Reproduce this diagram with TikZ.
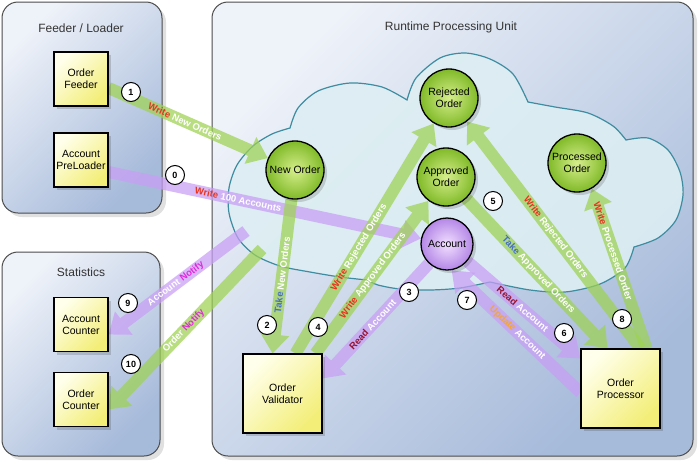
\documentclass[tikz,border=0pt]{standalone}
\usepackage{fontspec}
\setmainfont{Liberation Sans}
\usetikzlibrary{arrows.meta}
\pgfdeclarelayer{bg}
\pgfdeclarelayer{arr}
\pgfsetlayers{bg,arr,main}
\definecolor{contA}{RGB}{238,242,249}
\definecolor{contB}{RGB}{166,186,218}
\definecolor{cloudfill}{RGB}{221,238,243}
\definecolor{cloudline}{RGB}{62,140,160}
\definecolor{garrow}{RGB}{158,210,82}
\definecolor{parrow}{RGB}{200,158,245}
\definecolor{yelA}{RGB}{255,255,235}
\definecolor{yelB}{RGB}{243,238,120}
\definecolor{grnA}{RGB}{214,238,140}
\definecolor{grnB}{RGB}{128,186,40}
\definecolor{purA}{RGB}{242,224,255}
\definecolor{purB}{RGB}{180,135,230}
\definecolor{wr}{RGB}{232,52,30}
\definecolor{tk}{RGB}{70,110,200}
\definecolor{rd}{RGB}{150,20,50}
\definecolor{up}{RGB}{245,165,50}
\definecolor{nt}{RGB}{225,40,220}
\tikzset{
  container/.style={draw=black!70, line width=1pt, rounded corners=16pt,
     top color=contA, bottom color=contB, shading angle=45},
  cshadow/.style={fill=black, fill opacity=0.12, rounded corners=16pt},
  ctitle/.style={font=\fontsize{12}{14}\selectfont, text=black!80},
  nshadow/.style={preaction={fill=black, fill opacity=0.15, transform canvas={xshift=3pt,yshift=-3pt}}},
  ybox/.style={draw=black, line width=1.2pt, minimum width=54pt, minimum height=54pt,
     top color=yelA, bottom color=yelB, shading angle=45, align=center,
     font=\fontsize{10.5}{12}\selectfont, inner sep=1pt, nshadow},
  bigbox/.style={ybox, minimum width=79pt, minimum height=79pt},
  gcirc/.style={circle, draw=black, line width=1.3pt, minimum size=58pt, inner sep=0pt,
     inner color=grnA, outer color=grnB, align=center,
     font=\fontsize{10.5}{12}\selectfont, nshadow},
  pcirc/.style={gcirc, minimum size=52pt, inner color=purA, outer color=purB},
  garr/.style={draw=garrow, line width=12pt, -{Triangle[width=28pt,length=19pt]}},
  parr/.style={draw=parrow, line width=12pt, -{Triangle[width=28pt,length=19pt]}},
  lbl/.style={font=\bfseries\fontsize{9.5}{10}\selectfont, text=white, inner sep=0pt},
  numc/.style={circle, draw=black, line width=1pt, fill=white, minimum size=19pt,
     inner sep=0pt, font=\bfseries\fontsize{9}{10}\selectfont},
}
\newcommand\flowarrow[5]{%
  \begin{pgfonlayer}{arr}
    \begin{scope}[transparency group, opacity=0.72]
      \draw[#1] #2 -- #3;
    \end{scope}
  \end{pgfonlayer}
  \path #2 -- #3 node[lbl, sloped, pos=#4]{#5};
}
\begin{document}
\begin{tikzpicture}[x=1pt,y=-1pt]
\useasboundingbox (0,0) rectangle (699,464);
\begin{pgfonlayer}{bg}
  \fill[white] (0,0) rectangle (699,464);
  % containers
  \fill[cshadow] (6,6) rectangle (166,217);
  \path[container] (2,2) rectangle (162,213);
  \fill[cshadow] (6,256) rectangle (164,460);
  \path[container] (2,252) rectangle (160,456);
  \fill[cshadow] (216,6) rectangle (697,460);
  \path[container] (212,2) rectangle (693,456);
  % cloud
  \path[fill=cloudfill, fill opacity=0.9, draw=cloudline, line width=1.2pt]
    (290,128) -- plot[smooth] coordinates {(290,128) (298,108) (318,91) (350,83) (382,87) (407,100)}
    -- plot[smooth] coordinates {(407,100) (416,78) (440,58) (465,53) (490,59) (513,74) (528,102)}
    -- plot[smooth] coordinates {(528,102) (555,107) (588,113) (613,126) (626,140)}
    -- plot[smooth] coordinates {(626,140) (648,138) (668,150) (680,172) (683,195) (676,220) (658,238) (634,247)}
    -- plot[smooth] coordinates {(634,247) (625,268) (600,284) (565,292) (530,290) (490,282)}
    -- plot[smooth] coordinates {(490,282) (460,288) (430,290) (400,289) (378,285) (367,280)}
    -- plot[smooth] coordinates {(367,280) (340,277) (310,272) (280,266) (255,255) (238,238) (229,213) (229,188) (237,165) (253,146) (272,134) (290,128)}
    -- cycle;
\end{pgfonlayer}
% titles
\node[ctitle] (t1) at (81,28) {Feeder / Loader};
\node[ctitle] (t2) at (81,272) {Statistics};
\node[ctitle] (t3) at (451,27) {Runtime Processing Unit};
% boxes
\node[ybox] (feeder) at (81,79) {Order\\Feeder};
\node[ybox] (preloader) at (81,160) {Account\\PreLoader};
\node[ybox] (acccounter) at (81,324.5) {Account\\Counter};
\node[ybox] (ordcounter) at (81,399.5) {Order\\Counter};
\node[bigbox] (validator) at (282.5,393.5) {Order\\Validator};
\node[bigbox] (processor) at (620.5,388.5) {Order\\Processor};
% spaces
\node[gcirc] (neworder) at (295,170) {New Order};
\node[gcirc] (rejected) at (449,98) {Rejected\\Order};
\node[gcirc] (approved) at (446,177) {Approved\\Order};
\node[gcirc] (processed) at (577,163) {Processed\\Order};
\node[pcirc] (account) at (447,244) {Account};
\coordinate (c9) at (246,231);
\coordinate (c10) at (262,249);
% arrows
\flowarrow{parr}{([yshift=-12pt]preloader.east)}{(account)}{0.415}{\textcolor{wr}{Write} 100 Accounts}
\flowarrow{garr}{([yshift=-9pt]feeder.east)}{(neworder)}{0.48}{\textcolor{wr}{Write} New Orders}
\flowarrow{garr}{(neworder)}{([xshift=-10pt]validator.north)}{0.49}{\textcolor{tk}{Take} New Orders}
\flowarrow{garr}{([xshift=13pt]validator.north)}{(rejected)}{0.46}{\textcolor{wr}{Write} Rejected Orders}
\flowarrow{garr}{([xshift=33pt]validator.north)}{(approved)}{0.51}{\textcolor{wr}{Write} Approved Orders}
\flowarrow{parr}{(account)}{([yshift=15pt]validator.east)}{0.53}{\textcolor{rd}{Read} Account}
\flowarrow{garr}{(approved)}{([xshift=-13pt]processor.north)}{0.51}{\textcolor{tk}{Take} Approved Orders}
\flowarrow{garr}{([xshift=20pt]processor.north)}{(rejected)}{0.49}{\textcolor{wr}{Write} Rejected Orders}
\flowarrow{garr}{([xshift=26pt]processor.north)}{(processed.-60)}{0.61}{\textcolor{wr}{Write} Processed Order}
\flowarrow{parr}{(account)}{([yshift=30pt]processor.west)}{0.49}{\textcolor{rd}{Read} Account}
\flowarrow{parr}{([yshift=-4pt]processor.west)}{(account.-80)}{0.49}{\textcolor{up}{Update} Account}
\flowarrow{parr}{(c9)}{([yshift=-10pt]acccounter.east)}{0.51}{Account \textcolor{nt}{Notify}}
\flowarrow{garr}{(c10)}{([yshift=-10pt]ordcounter.east)}{0.51}{Order \textcolor{nt}{Notify}}
% step numbers
\node[numc] (n0) at (175,175) {0};
\node[numc] (n1) at (131,92) {1};
\node[numc] (n2) at (267,325) {2};
\node[numc] (n3) at (409,292) {3};
\node[numc] (n4) at (318,327) {4};
\node[numc] (n5) at (493,201) {5};
\node[numc] (n6) at (564,333) {6};
\node[numc] (n7) at (467,300) {7};
\node[numc] (n8) at (622,319) {8};
\node[numc] (n9) at (128,303) {9};
\node[numc] (n10) at (131,364) {10};
\end{tikzpicture}
\end{document}
